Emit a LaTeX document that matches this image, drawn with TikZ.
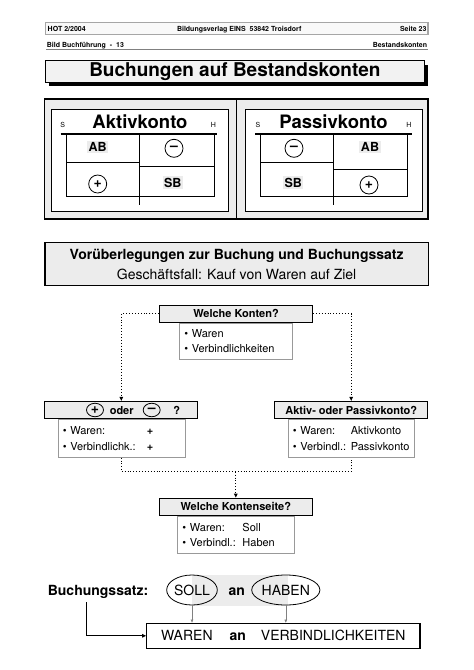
\documentclass[tikz,border=0pt]{standalone}
\usepackage{fontspec}
\setmainfont{TeX Gyre Heros}
\usetikzlibrary{arrows.meta,shapes.geometric}
\newcommand{\fsz}[1]{\fontsize{#1}{#1}\selectfont}

\begin{document}
\begin{tikzpicture}[x=1pt, y=-1pt, >={Triangle[length=4pt,width=3.5pt]},
  strip/.style={draw=gray!70, line width=1.2pt, fill=gray!5, minimum width=382.3pt, minimum height=12pt, inner sep=0pt},
  klein/.style={font=\bfseries\fsz{7}, inner sep=0pt, anchor=base},
  kopf/.style={draw, line width=1.1pt, fill=gray!15, minimum width=153pt, minimum height=17pt, inner sep=0pt, font=\bfseries\fsz{11}},
  liste/.style={draw=gray!80, line width=0.6pt, fill=white, anchor=north, align=left, inner xsep=5pt, font=\fontsize{11}{15.5}\selectfont},
  zeichen/.style={draw, circle, line width=0.8pt, minimum size=18pt, inner sep=0pt, font=\bfseries\fsz{14}},
  zeichenklein/.style={draw, ellipse, line width=0.8pt, minimum width=17pt, minimum height=13.5pt, inner sep=0pt, font=\bfseries\fsz{14}},
  feld/.style={fill=gray!15, inner sep=1.5pt, anchor=base, font=\bfseries\fsz{12.5}},
  punkte/.style={dotted, line width=0.9pt},
  oval/.style={draw, ellipse, line width=0.8pt, minimum height=30pt, inner sep=0pt, font=\fsz{14}}]

\useasboundingbox (0,0) rectangle (474,670);

% Kopfzeile
\node[strip] (kopfzeile) at (236.85,28.7) {};
\node[klein, anchor=base west] (hot) at (47.5,31.2) {HOT 2/2004};
\node[klein] (verlag) at (239.2,31.2) {Bildungsverlag EINS\ \ 53842 Troisdorf};
\node[klein, anchor=base east] (seite23) at (426.7,31.2) {Seite 23};
\node[klein, anchor=base west] (bild) at (46.7,47.5) {Bild Buchführung\ \ -\ \ 13};
\node[klein, anchor=base east] (thema) at (427.3,47.5) {Bestandskonten};
\draw[gray, line width=0.6pt] (46,49.5) -- (428,49.5);

% Titel
\fill (49,64.7) rectangle (428,86);
\node[draw, line width=0.8pt, fill=gray!10, minimum width=378.3pt, minimum height=21.3pt, inner sep=0pt, font=\bfseries\fsz{19}] (titel) at (234.85,71.35) {Buchungen auf Bestandskonten};

% Konten
\draw[line width=1.2pt, fill=gray!15] (44.3,99) rectangle (428,219);
\draw[line width=1.2pt] (236.7,99) -- (236.7,219);
\draw[line width=0.6pt, fill=white] (51.7,109) rectangle (228,211.7);
\draw[line width=0.6pt, fill=white] (245,109) rectangle (422.7,211.7);

% Aktivkonto
\draw[line width=1.2pt] (60.7,134) -- (216.7,134) (139.3,134) -- (139.3,205);
\draw[line width=0.6pt] (66,134) -- (66,196) -- (214,196) -- (214,134);
\draw[line width=0.6pt] (66,162.3) -- (139.3,162.3) (139.3,166) -- (214,166);
\node[anchor=base, font=\bfseries\fsz{18.5}] (aktiv) at (140,128.3) {Aktivkonto};
\node[anchor=base, font=\fsz{7}] (aktivs) at (62.7,127.7) {S};
\node[anchor=base, font=\fsz{7}] (aktivh) at (213.3,127.7) {H};
\node[feld] (aktivab) at (97.7,151.7) {AB};
\node[zeichen] (aktivminus) at (174,148.3) {–};
\node[zeichen] (aktivplus) at (97.7,184) {+};
\node[feld] (aktivsb) at (172.7,187) {SB};

% Passivkonto
\draw[line width=1.2pt] (255,134) -- (411.7,134) (333.3,134) -- (333.3,205);
\draw[line width=0.6pt] (260,134) -- (260,196) -- (407.7,196) -- (407.7,134);
\draw[line width=0.6pt] (260,162.7) -- (333.3,162.7) (333.3,169) -- (407.7,169);
\node[anchor=base, font=\bfseries\fsz{18.5}] (passiv) at (333.5,128.3) {Passivkonto};
\node[anchor=base, font=\fsz{7}] (passivs) at (258,127.7) {S};
\node[anchor=base, font=\fsz{7}] (passivh) at (409,127.7) {H};
\node[zeichen] (passivminus) at (294,148.3) {–};
\node[feld] (passivab) at (370,151.5) {AB};
\node[feld] (passivsb) at (293.3,187) {SB};
\node[zeichen] (passivplus) at (369,185) {+};

% Vorueberlegungen
\node[draw, line width=1.2pt, fill=gray!15, minimum width=383.3pt, minimum height=43.4pt, align=center, font=\fontsize{14}{20}\selectfont] (vor) at (236.65,264) {\textbf{Vorüberlegungen zur Buchung und Buchungssatz}\\Geschäftsfall: Kauf von Waren auf Ziel};

\node[kopf] (konten) at (236,313.7) {Welche Konten?};
\node[liste, text width=103.4pt, minimum height=36pt] (kontenliste) at (konten.south) {• Waren\\• Verbindlichkeiten};

\node[kopf] (vorz) at (121.3,410) {};
\node[zeichenklein] (vplus) at (95,410) {+};
\node[anchor=base, font=\bfseries\fsz{11}] (voder) at (121.7,414) {oder};
\node[zeichenklein] (vminus) at (151.7,410) {–};
\node[anchor=base, font=\bfseries\fsz{11}] (vfrage) at (176.7,414) {?};
\node[liste, text width=117pt, minimum height=38pt] (vorzliste) at (vorz.south) {\makebox[84pt][l]{• Waren:}\textbf{+}\\\makebox[84pt][l]{• Verbindlichk.:}\textbf{+}};

\node[kopf] (art) at (351.2,410) {Aktiv- oder Passivkonto?};
\node[liste, text width=116.7pt, minimum height=38pt] (artliste) at (art.south) {\makebox[58pt][l]{• Waren:}Aktivkonto\\\makebox[58pt][l]{• Verbindl.:}Passivkonto};

\node[kopf] (seite) at (235.8,506.7) {Welche Kontenseite?};
\node[liste, text width=106.7pt, minimum height=37.4pt] (seitenliste) at (seite.south) {\makebox[60pt][l]{• Waren:}Soll\\\makebox[60pt][l]{• Verbindl.:}Haben};

\draw[punkte,->] (konten.west) -| (vorz.north);
\draw[punkte,->] (konten.east) -| (art.north);
\coordinate (treff) at (235.8,471.7);
\draw[punkte] (vorzliste.south) |- (treff) -| (artliste.south);
\draw[punkte,->] (treff) -- (seite.north);

% Buchungssatz
\fill[gray!15] (192,575) rectangle (288,606);
\node[anchor=base, font=\bfseries\fsz{14}] (satzlabel) at (98,595.7) {Buchungssatz:};
\node[oval, minimum width=47.4pt] (soll) at (192,590) {SOLL};
\node[anchor=base, font=\bfseries\fsz{14}] (an) at (236.7,595.7) {an};
\node[oval, minimum width=65pt] (haben) at (285.8,590) {HABEN};
\node[draw, line width=1.3pt, fill=white, minimum width=273.3pt, minimum height=25pt, inner sep=0pt, font=\fsz{14}] (satz) at (283.35,635.8) {WAREN\hspace{17pt}\textbf{an}\hspace{15pt}VERBINDLICHKEITEN};
\draw[gray, line width=0.5pt, -{Triangle[length=3pt,width=2.5pt]}] (soll) -- (soll |- satz.north);
\draw[gray, line width=0.5pt, -{Triangle[length=3pt,width=2.5pt]}] (haben) -- (haben |- satz.north);
\draw[line width=1pt, ->] ([xshift=-11.3pt]satzlabel.south) |- (satz.west);
\end{tikzpicture}
\end{document}
